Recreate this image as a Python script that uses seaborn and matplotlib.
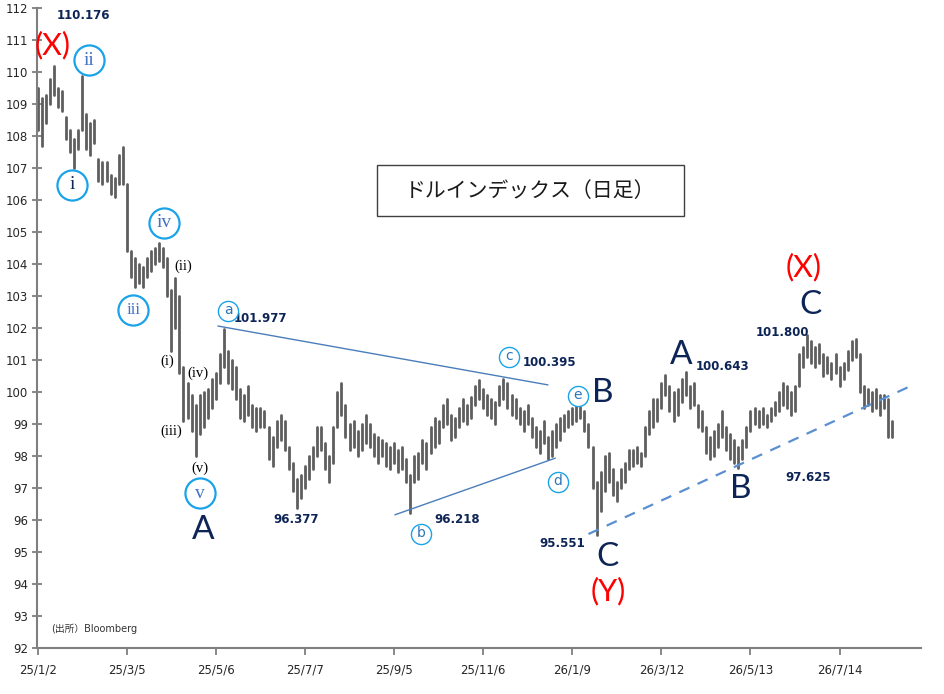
import numpy as np
import pandas as pd
import matplotlib.pyplot as plt
import matplotlib.patches as mpatches
import seaborn as sns

# one bar per two trading days, low / high
bar_lo = [
    108.2, 107.7, 108.4, 109.0, 109.3, 108.9, 108.8, 107.9, 107.5, 107.0,
    107.6, 108.2, 107.6, 107.4, 107.8, 106.6, 106.5, 106.6, 106.2, 106.1,
    106.5, 106.5, 104.4, 103.6, 103.3, 103.4, 103.3, 103.6, 103.8, 104.0,
    104.1, 103.9, 103.0, 101.3, 102.0, 100.6, 99.1, 99.2, 98.8, 98.0,
    98.7, 98.9, 99.2, 99.5, 99.8, 100.3, 100.8, 100.3, 100.1, 99.8,
    99.2, 99.1, 99.3, 98.9, 98.8, 98.9, 98.9, 97.9, 97.7, 98.3,
    98.5, 98.2, 97.6, 96.9, 96.38, 96.7, 97.0, 97.3, 97.6, 98.0,
    98.2, 97.6, 97.2, 97.8, 98.9, 99.3, 98.6, 98.2, 98.3, 98.0,
    98.2, 98.4, 98.3, 98.0, 97.8, 98.0, 97.7, 97.6, 97.8, 97.5,
    97.6, 97.2, 96.22, 97.2, 97.3, 97.8, 97.6, 98.1, 98.3, 98.4,
    98.9, 99.0, 98.5, 98.6, 98.9, 99.1, 99.0, 99.2, 99.6, 99.8,
    99.5, 99.3, 99.2, 99.0, 99.6, 99.8, 99.5, 99.3, 99.2, 99.0,
    98.8, 99.0, 98.6, 98.3, 98.1, 98.4, 97.9, 98.0, 98.3, 98.5,
    98.8, 98.9, 99.0, 99.1, 99.2, 98.8, 98.3, 97.0, 95.55, 96.3,
    96.9, 97.2, 96.8, 96.6, 97.0, 97.2, 97.6, 97.7, 97.8, 97.7,
    98.0, 98.7, 98.9, 99.1, 99.5, 99.9, 99.4, 99.1, 99.3, 99.7,
    99.9, 99.5, 99.6, 98.9, 98.8, 98.1, 97.9, 98.0, 98.3, 98.6,
    98.2, 97.9, 97.8, 97.63, 97.9, 98.3, 98.8, 99.0, 98.9, 99.0,
    98.9, 99.1, 99.3, 99.4, 99.6, 99.5, 99.3, 99.4, 100.2, 100.8,
    101.1, 100.9, 100.8, 100.9, 100.5, 100.6, 100.4, 100.6, 100.2, 100.4,
    100.7, 101.0, 101.1, 100.0, 99.5, 99.6, 99.4, 99.5, 99.3, 99.5,
    98.6, 98.6]
bar_hi = [
    109.5, 109.2, 109.3, 109.8, 110.18, 109.5, 109.4, 108.6, 108.2, 107.9,
    108.2, 109.88, 108.7, 108.4, 108.5, 107.3, 107.2, 107.2, 106.8, 106.7,
    107.4, 107.67, 106.5, 104.4, 104.2, 104.0, 103.9, 104.2, 104.4, 104.5,
    104.66, 104.5, 104.2, 103.2, 103.57, 103.0, 100.8, 100.3, 99.9, 99.6,
    99.9, 100.0, 100.1, 100.4, 100.6, 101.2, 101.98, 101.3, 101.0, 100.8,
    100.1, 99.9, 100.2, 99.6, 99.5, 99.5, 99.4, 98.9, 98.6, 99.1,
    99.3, 99.1, 98.3, 97.8, 97.3, 97.4, 97.7, 98.0, 98.3, 98.9,
    98.9, 98.4, 98.0, 98.9, 100.0, 100.28, 99.6, 99.0, 99.1, 98.8,
    99.0, 99.3, 99.0, 98.7, 98.6, 98.5, 98.4, 98.3, 98.4, 98.2,
    98.3, 97.9, 97.4, 98.0, 98.1, 98.5, 98.4, 98.9, 99.2, 99.1,
    99.6, 99.8, 99.3, 99.2, 99.5, 99.8, 99.6, 99.86, 100.2, 100.38,
    100.1, 99.9, 99.8, 99.7, 100.2, 100.4, 100.3, 99.9, 99.8, 99.5,
    99.4, 99.6, 99.2, 98.9, 98.8, 99.1, 98.6, 98.8, 99.0, 99.2,
    99.3, 99.4, 99.5, 99.6, 99.55, 99.4, 99.0, 98.3, 97.2, 97.5,
    98.0, 98.1, 97.6, 97.2, 97.6, 97.8, 98.2, 98.2, 98.3, 98.1,
    98.9, 99.4, 99.8, 99.8, 100.3, 100.54, 100.2, 100.0, 100.1, 100.4,
    100.64, 100.2, 100.3, 99.6, 99.4, 98.9, 98.6, 98.8, 99.0, 99.4,
    98.9, 98.7, 98.5, 98.3, 98.5, 98.9, 99.4, 99.5, 99.4, 99.5,
    99.3, 99.5, 99.7, 100.0, 100.3, 100.2, 100.0, 100.2, 101.2, 101.4,
    101.8, 101.6, 101.4, 101.5, 101.2, 101.1, 100.9, 101.2, 100.8, 100.9,
    101.3, 101.6, 101.65, 101.2, 100.2, 100.1, 100.0, 100.1, 99.9, 99.9,
    99.8, 99.1]

date_labels = ["25/1/2", "25/3/5", "25/5/6", "25/7/7", "25/9/5",
               "25/11/6", "26/1/9", "26/3/12", "26/5/13", "26/7/14"]
bars_per_tick = 22

# trend lines: (bar index, price)
tri_upper = [(44.5, 102.07), (126.0, 100.23)]
tri_lower = [(88.2, 96.17), (127.8, 97.94)]
support_line = [(136.0, 95.57), (215.8, 100.21)]

# labels: text, bar index, price
price_notes = [("110.176", 11.2, 111.76), ("101.977", 54.9, 102.29),
               ("96.377", 63.8, 96.01), ("100.395", 126.3, 100.92),
               ("96.218", 103.6, 96.01), ("95.551", 129.5, 95.26),
               ("100.643", 169.2, 100.82), ("97.625", 190.2, 97.35),
               ("101.800", 183.8, 101.88)]
big_waves = [("A", 40.8, 95.7), ("B", 139.6, 99.97), ("C", 140.6, 94.85),
             ("A", 158.9, 101.16), ("B", 173.7, 96.98), ("C", 190.7, 102.73)]
red_waves = [("(X)", 3.6, 110.85), ("(X)", 189.0, 103.92), ("(Y)", 140.8, 93.8)]
circle_roman = [("i", 8.5, 106.48), ("ii", 12.7, 110.38), ("iii", 23.6, 102.58),
                ("iv", 31.2, 105.3), ("v", 40.1, 96.85)]
paren_roman = [("(ii)", 35.9, 103.93), ("(i)", 31.9, 100.96), ("(iv)", 39.6, 100.59),
               ("(iii)", 32.9, 98.77), ("(v)", 40.1, 97.63)]
circle_letters = [("a", 47.0, 102.54), ("c", 116.4, 101.1), ("b", 94.7, 95.56),
                  ("d", 128.5, 97.2), ("e", 133.4, 99.87)]

sns.set_theme(style="white")
plt.rcParams['font.family'] = ['DejaVu Sans', 'Noto Sans CJK JP']

navy = "#0d2456"
fig = plt.figure(figsize=(9.45, 6.94), dpi=100)
ax = fig.add_axes([0.0392, 0.0659, 0.9354, 0.9222])

idx = np.arange(len(bar_lo))
df = pd.DataFrame({"bar": np.repeat(idx, 2),
                   "price": np.column_stack([bar_lo, bar_hi]).ravel()})
sns.lineplot(data=df, x="bar", y="price", units="bar", estimator=None,
             color="#5e5e5e", lw=2.0, ax=ax, legend=False)

for pts, style in [(tri_upper, dict(color="#4a7ebb", lw=1.0)),
                   (tri_lower, dict(color="#4a7ebb", lw=1.0)),
                   (support_line, dict(color="#5b8fd0", lw=1.6, ls=(0, (5, 4))))]:
    xs, ys = zip(*pts)
    ax.plot(xs, ys, **style)

for t, x, y in price_notes:
    ax.text(x, y, t, ha="center", va="center", fontsize=8.5,
            fontweight="bold", color=navy)
for t, x, y in big_waves:
    ax.text(x, y, t, ha="center", va="center", fontsize=24,
            family="Lato", color=navy)
for t, x, y in red_waves:
    ax.text(x, y, t, ha="center", va="center", fontsize=22,
            family="Lato", color="#ff0000")
for k, (t, x, y) in enumerate(circle_roman):
    ax.scatter([x], [y], s=470, facecolor="white", edgecolor="#1aa3e8",
               lw=1.6, zorder=4)
    ax.text(x, y, t, ha="center", va="center", fontsize=14 if len(t) < 3 else 12,
            family="Liberation Serif", color=navy if k == 0 else "#4472c4",
            zorder=5)
for t, x, y in paren_roman:
    ax.text(x, y, t, ha="center", va="center", fontsize=10.5,
            family="Liberation Serif", color="black")
for t, x, y in circle_letters:
    ax.scatter([x], [y], s=210, facecolor="white", edgecolor="#1aa3e8",
               lw=1.0, zorder=4)
    ax.text(x, y + 0.03, t, ha="center", va="center", fontsize=10,
            color="#2e75b6", zorder=5)

ax.add_patch(mpatches.Rectangle((83.8, 105.51), 75.8, 1.59, facecolor="white",
                                edgecolor="#404040", lw=1.0, zorder=3))
ax.text(121.7, 106.3, "ドルインデックス（日足）", ha="center", va="center",
        fontsize=15, family="Noto Sans CJK JP", color="#1a1a1a", zorder=4)
ax.text(3.3, 92.6, "(出所）Bloomberg", ha="left", va="center", fontsize=7,
        color="#333333")

ax.set_xlim(-0.15, 218.1)
ax.set_ylim(92, 112)
ax.set_yticks(range(92, 113))
ax.set_xticks(np.arange(len(date_labels)) * bars_per_tick)
ax.set_xticklabels(date_labels)
ax.set_xlabel("")
ax.set_ylabel("")
ax.tick_params(axis="y", direction="inout", length=7, width=1.3,
               color="#7f7f7f", labelsize=8.5, pad=3, left=True)
ax.tick_params(axis="x", direction="out", length=5, width=1.3,
               color="#7f7f7f", labelsize=8.5, pad=6, bottom=True)
for s in ["top", "right"]:
    ax.spines[s].set_visible(False)
for s in ["left", "bottom"]:
    ax.spines[s].set_color("#7f7f7f")
    ax.spines[s].set_linewidth(1.5)
ax.grid(False)

fig.savefig("out.png", dpi=100)
